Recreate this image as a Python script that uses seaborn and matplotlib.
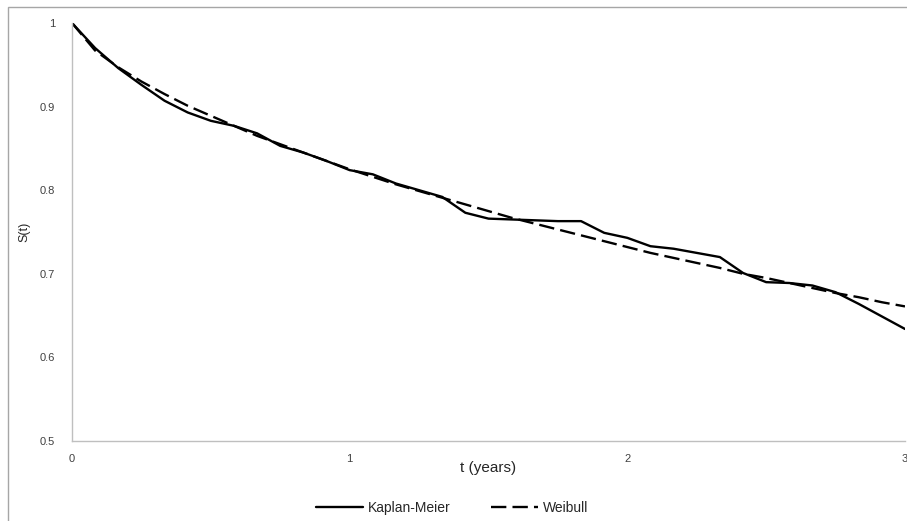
import numpy as np
import pandas as pd
import matplotlib
matplotlib.use("Agg")
import matplotlib.pyplot as plt
import seaborn as sns
from matplotlib.patches import Rectangle

# time points (years, monthly steps)
t_years = [i / 12 for i in range(37)]

km_surv = [1.000, 0.970, 0.946, 0.926, 0.907, 0.893, 0.883, 0.877, 0.868, 0.853,
           0.845, 0.835, 0.824, 0.819, 0.808, 0.800, 0.792, 0.773, 0.766, 0.765,
           0.764, 0.763, 0.763, 0.749, 0.743, 0.733, 0.730, 0.725, 0.720, 0.701,
           0.690, 0.689, 0.686, 0.678, 0.664, 0.649, 0.634]

weibull_surv = [1.000, 0.967, 0.947, 0.930, 0.915, 0.901, 0.889, 0.877, 0.865, 0.855,
                0.845, 0.835, 0.825, 0.816, 0.807, 0.799, 0.791, 0.783, 0.775, 0.767,
                0.760, 0.753, 0.746, 0.739, 0.732, 0.725, 0.719, 0.713, 0.707, 0.700,
                0.695, 0.689, 0.683, 0.677, 0.672, 0.666, 0.661]

df = pd.DataFrame({
    "t": t_years * 2,
    "S": km_surv + weibull_surv,
    "Model": ["Kaplan-Meier"] * len(t_years) + ["Weibull"] * len(t_years),
})

sns.set_style("white")
plt.rcParams["font.family"] = ["Liberation Sans", "DejaVu Sans"]

fig = plt.figure(figsize=(9.07, 5.21), dpi=100)
ax = fig.add_axes([72 / 907, 1 - 441 / 521, 833 / 907, 418 / 521])

sns.lineplot(data=df, x="t", y="S", hue="Model", style="Model",
             palette={"Kaplan-Meier": "black", "Weibull": "black"},
             dashes={"Kaplan-Meier": "", "Weibull": (6.5, 2.6)},
             linewidth=1.7, ax=ax, legend=True)

ax.set_xlim(0, 3)
ax.set_ylim(0.5, 1.0)
ax.set_xticks([0, 1, 2, 3])
ax.set_xticklabels(["0", "1", "2", "3"])
ax.set_yticks([0.5, 0.6, 0.7, 0.8, 0.9, 1.0])
ax.set_yticklabels(["0.5", "0.6", "0.7", "0.8", "0.9", "1"])
ax.tick_params(axis="both", length=0, labelsize=8, colors="#404040")
ax.tick_params(axis="x", pad=9)
ax.tick_params(axis="y", pad=12)

for side in ["top", "right"]:
    ax.spines[side].set_visible(False)
for side in ["left", "bottom"]:
    ax.spines[side].set_color("#BFBFBF")
    ax.spines[side].set_linewidth(1.0)

ax.set_xlabel("t (years)", fontsize=11, labelpad=-2)
ax.set_ylabel("S(t)", fontsize=9, labelpad=7)

handles, labels = ax.get_legend_handles_labels()
ax.get_legend().remove()
fig.legend(handles, labels, loc="center", bbox_to_anchor=(452 / 907, 1 - 508 / 521),
           ncol=2, frameon=False, fontsize=10, handlelength=3.4,
           handletextpad=0.35, columnspacing=2.9)

# outer chart border
fig.patches.append(Rectangle((8 / 907, -0.1), 1.2, 1 - 7 / 521 + 0.1,
                             transform=fig.transFigure, fill=False,
                             edgecolor="#A6A6A6", linewidth=1.0))

fig.savefig("out.png", dpi=100)
